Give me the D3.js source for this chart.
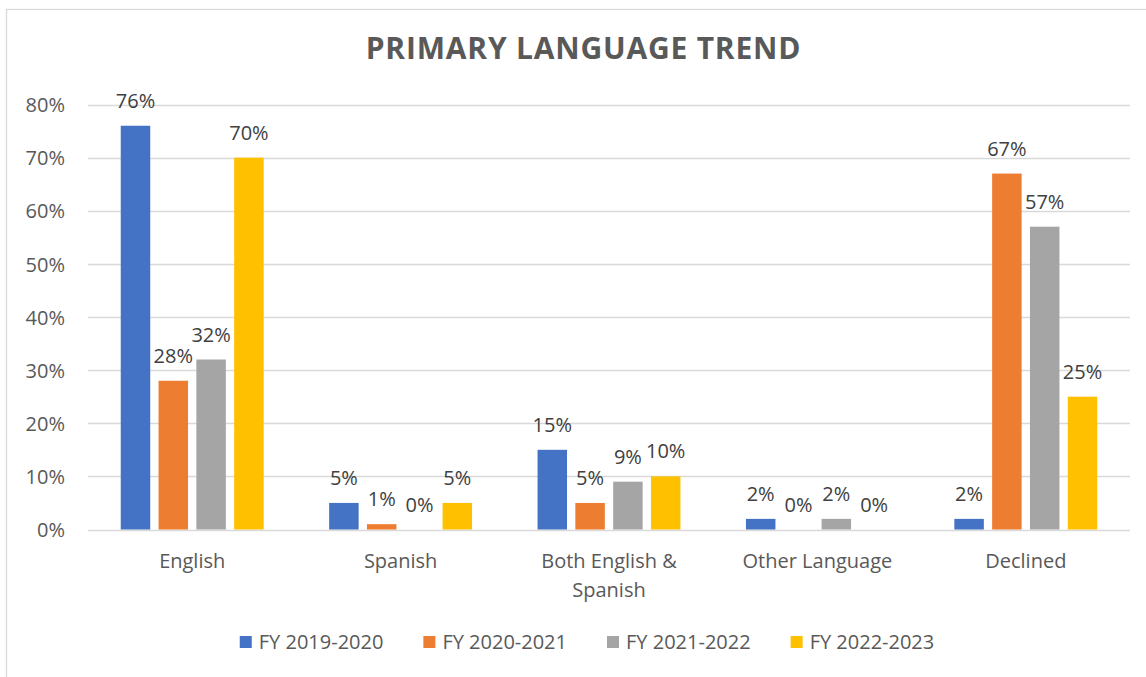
<!DOCTYPE html>
<html>
<head>
<meta charset="utf-8">
<script src="https://cdn.jsdelivr.net/npm/d3@7/dist/d3.min.js"></script>
<style>
  html, body { margin: 0; padding: 0; background: #ffffff; }
  svg { display: block; font-family: "Open Sans", "Noto Sans", "Liberation Sans", sans-serif; }
</style>
</head>
<body>
<svg id="chart" width="1146" height="677"></svg>
<script>
const title = "PRIMARY LANGUAGE TREND";
const categories = ["English", "Spanish", "Both English & Spanish", "Other Language", "Declined"];
const categoryLines = [["English"], ["Spanish"], ["Both English &", "Spanish"], ["Other Language"], ["Declined"]];
const seriesNames = ["FY 2019-2020", "FY 2020-2021", "FY 2021-2022", "FY 2022-2023"];
const seriesColors = ["#4472C4", "#ED7D31", "#A5A5A5", "#FFC000"];
const fy2019 = [0.76, 0.05, 0.15, 0.02, 0.02];
const fy2020 = [0.28, 0.01, 0.05, 0.00, 0.67];
const fy2021 = [0.32, 0.00, 0.09, 0.02, 0.57];
const fy2022 = [0.70, 0.05, 0.10, 0.00, 0.25];
const yTicks = [0, 0.1, 0.2, 0.3, 0.4, 0.5, 0.6, 0.7, 0.8];

const seriesValues = [fy2019, fy2020, fy2021, fy2022];
const svg = d3.select("#chart");
const FS = 20;

// chart border
svg.append("rect")
  .attr("x", 6.5).attr("y", 9.5)
  .attr("width", 1200).attr("height", 700)
  .attr("fill", "none").attr("stroke", "#d9d9d9").attr("stroke-width", 1.3);

// title
svg.append("text")
  .attr("x", 583.5).attr("y", 59)
  .attr("text-anchor", "middle")
  .attr("font-size", 30).attr("font-weight", 700)
  .attr("letter-spacing", 0.8)
  .attr("fill", "#595959")
  .text(title);

const plot = { left: 88, right: 1130, top: 104.5, bottom: 529.5 };

const x0 = d3.scaleBand().domain(categories).range([plot.left, plot.right]).padding(0);
const x1 = d3.scaleBand().domain(seriesNames).range([0, x0.bandwidth()]).paddingInner(0.22).paddingOuter(0.866);
const y = d3.scaleLinear().domain([0, 0.8]).range([plot.bottom, plot.top]);

// gridlines
svg.append("g").selectAll("line").data(yTicks).join("line")
  .attr("x1", plot.left).attr("x2", plot.right)
  .attr("y1", d => Math.round(y(d)) + 0.5).attr("y2", d => Math.round(y(d)) + 0.5)
  .attr("stroke", "#d9d9d9").attr("stroke-width", 1.3);

// y axis labels
const yAxis = d3.axisLeft(y).tickValues(yTicks).tickFormat(d3.format(".0%")).tickSize(0).tickPadding(0);
const yG = svg.append("g").attr("transform", "translate(65,0)").call(yAxis);
yG.select(".domain").remove();
yG.selectAll("text").attr("font-size", FS).attr("fill", "#595959")
  .attr("font-family", "\"Open Sans\", sans-serif").attr("dy", "0.36em");

// bars
const data = [];
categories.forEach((c, ci) => {
  seriesNames.forEach((s, si) => {
    data.push({ cat: c, series: s, value: seriesValues[si][ci], color: seriesColors[si] });
  });
});

const barsG = svg.append("g");
barsG.selectAll("rect").data(data).join("rect")
  .attr("x", d => x0(d.cat) + x1(d.series))
  .attr("width", x1.bandwidth())
  .attr("y", d => y(d.value))
  .attr("height", d => y(0) - y(d.value))
  .attr("fill", d => d.color);

// data labels
barsG.selectAll("text").data(data).join("text")
  .attr("x", d => x0(d.cat) + x1(d.series) + x1.bandwidth() / 2)
  .attr("y", d => y(d.value) - 18)
  .attr("text-anchor", "middle")
  .attr("font-size", FS).attr("fill", "#404040")
  .text(d => d3.format(".0%")(d.value));

// category labels
const catG = svg.append("g");
categories.forEach((c, ci) => {
  const t = catG.append("text")
    .attr("x", x0(c) + x0.bandwidth() / 2)
    .attr("y", 568)
    .attr("text-anchor", "middle")
    .attr("font-size", FS).attr("fill", "#595959");
  categoryLines[ci].forEach((line, li) => {
    t.append("tspan").attr("x", x0(c) + x0.bandwidth() / 2).attr("dy", li === 0 ? 0 : 29).text(line);
  });
});

// legend
const legendG = svg.append("g");
const items = legendG.selectAll("g").data(seriesNames).join("g");
items.append("rect").attr("width", 12).attr("height", 12).attr("y", 636)
  .attr("fill", (d, i) => seriesColors[i]);
items.append("text").attr("x", 19).attr("y", 649)
  .attr("font-size", FS).attr("fill", "#595959").text(d => d);
let widths = [];
items.each(function() { widths.push(19 + d3.select(this).select("text").node().getComputedTextLength()); });
const gap = 40;
const total = d3.sum(widths) + gap * (widths.length - 1);
let cx = 587 - total / 2;
items.each(function(d, i) {
  d3.select(this).attr("transform", `translate(${cx},0)`);
  cx += widths[i] + gap;
});
</script>
</body>
</html>
